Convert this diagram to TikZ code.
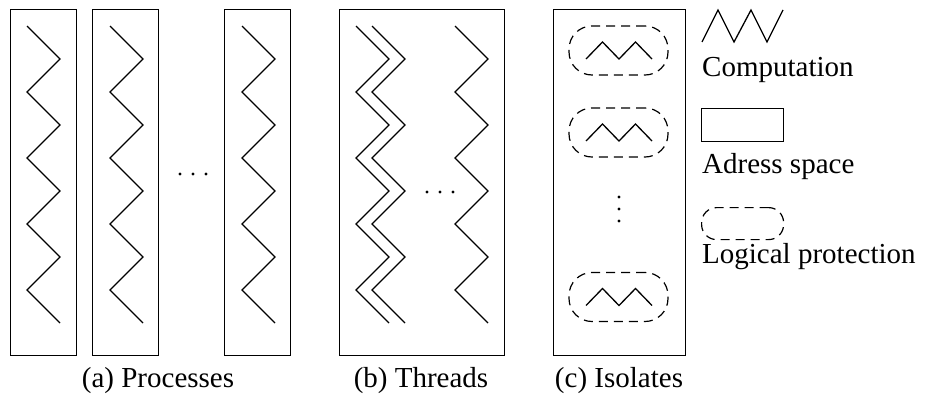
\documentclass[tikz,border=0pt]{standalone}
\usepackage{fontspec}
\setmainfont{Liberation Serif}
\begin{document}
\begin{tikzpicture}[x=1pt,y=-1pt,
  space/.style={draw,line width=1.4pt,minimum width=66pt,minimum height=346pt,inner sep=0pt,anchor=north west},
  zig/.style={line width=1.3pt,line join=miter},
  prot/.style={draw,dashed,dash pattern=on 9pt off 6pt,line width=1.2pt,rounded corners=23pt,inner sep=0pt},
  lbl/.style={font=\fontsize{29}{34}\selectfont,inner sep=0pt},
  dot/.style={fill=black,inner sep=0pt,minimum size=3.2pt,circle}]
\useasboundingbox (0,0) rectangle (925,397);
% address spaces
\node[space] (p1) at (10,9) {};
\node[space] (p2) at (92,9) {};
\node[space] (p3) at (224,9) {};
\node[space,minimum width=165pt] (t) at (339,9) {};
\node[space,minimum width=132pt] (iso) at (553,9) {};
% computations
\foreach \x in {27,110,242,356,372,455}{
  \draw[zig] (\x,26) \foreach \i in {1,...,4}{ -- ++(33,33) -- ++(-33,33)} -- ++(33,33);
}
% ellipses
\node[dot] (pd1) at (180,174) {};
\node[dot] (pd2) at (193,174) {};
\node[dot] (pd3) at (206,174) {};
\node[dot] (td1) at (427,192) {};
\node[dot] (td2) at (440,192) {};
\node[dot] (td3) at (453,192) {};
\node[dot] (id1) at (619,197) {};
\node[dot] (id2) at (619,209) {};
\node[dot] (id3) at (619,221) {};
% isolates
\foreach \y/\n in {50.5/i1,132.5/i2,297/i3}{
  \node[prot,minimum width=99pt,minimum height=49pt] (\n) at (618.5,\y) {};
  \draw[zig] (586,\y+8.5) -- ++(16.5,-17) -- ++(16.5,17) -- ++(16.5,-17) -- ++(16.5,17);
}
% legend
\draw[zig] (702,42) -- (718,10) -- (734,42) -- (751,10) -- (767,42) -- (783,10);
\node[lbl,anchor=base west] (lc) at (702,76) {Computation};
\node[draw,line width=1.2pt,minimum width=82pt,minimum height=33pt,inner sep=0pt,anchor=north west] (la) at (701,108) {};
\node[lbl,anchor=base west] (lat) at (702,173) {Adress space};
\node[prot,rounded corners=15pt,minimum width=82pt,minimum height=32pt,anchor=north west] (lp) at (701,207) {};
\node[lbl,anchor=base west] (lpt) at (702,263) {Logical protection};
% captions
\node[lbl,anchor=base] (ca) at (158,387) {(a) Processes};
\node[lbl,anchor=base] (cb) at (421,387) {(b) Threads};
\node[lbl,anchor=base] (cc) at (619,387) {(c) Isolates};
\end{tikzpicture}
\end{document}
